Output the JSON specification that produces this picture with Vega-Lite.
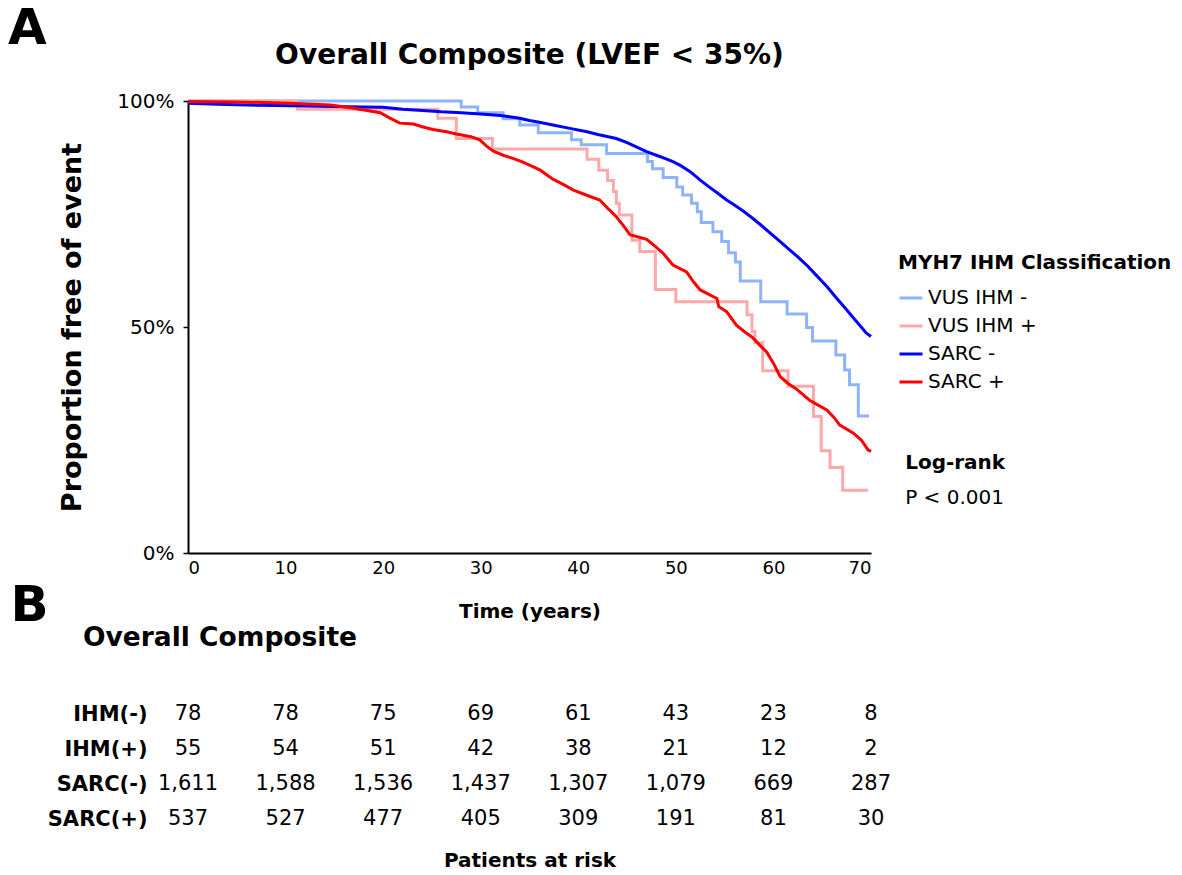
{
  "$schema": "https://vega.github.io/schema/vega-lite/v6.json",
  "autosize": {"type": "pad"},
  "padding": {"left": 8, "top": 4, "right": 0, "bottom": 0},
  "background": "white",
  "bounds": "flush",
  "spacing": 143.5,
  "title": {"text": "A", "anchor": "start", "frame": "group", "dx": -180, "fontSize": 50, "fontWeight": "bold", "font": "DejaVu Sans", "color": "black", "offset": -12},
  "datasets": {
    "km": [
      {"group": "VUS IHM -", "t": 0, "p": 1.0},
      {"group": "VUS IHM -", "t": 28.0, "p": 0.987},
      {"group": "VUS IHM -", "t": 29.7, "p": 0.974},
      {"group": "VUS IHM -", "t": 32.3, "p": 0.961},
      {"group": "VUS IHM -", "t": 34.0, "p": 0.947},
      {"group": "VUS IHM -", "t": 35.9, "p": 0.930},
      {"group": "VUS IHM -", "t": 39.3, "p": 0.914},
      {"group": "VUS IHM -", "t": 40.3, "p": 0.903},
      {"group": "VUS IHM -", "t": 42.9, "p": 0.884},
      {"group": "VUS IHM -", "t": 47.1, "p": 0.866},
      {"group": "VUS IHM -", "t": 47.6, "p": 0.850},
      {"group": "VUS IHM -", "t": 48.7, "p": 0.831},
      {"group": "VUS IHM -", "t": 50.1, "p": 0.810},
      {"group": "VUS IHM -", "t": 50.7, "p": 0.792},
      {"group": "VUS IHM -", "t": 51.6, "p": 0.774},
      {"group": "VUS IHM -", "t": 52.2, "p": 0.755},
      {"group": "VUS IHM -", "t": 52.6, "p": 0.731},
      {"group": "VUS IHM -", "t": 53.8, "p": 0.711},
      {"group": "VUS IHM -", "t": 54.7, "p": 0.689},
      {"group": "VUS IHM -", "t": 55.4, "p": 0.664},
      {"group": "VUS IHM -", "t": 56.1, "p": 0.644},
      {"group": "VUS IHM -", "t": 56.6, "p": 0.602},
      {"group": "VUS IHM -", "t": 58.7, "p": 0.556},
      {"group": "VUS IHM -", "t": 61.4, "p": 0.529},
      {"group": "VUS IHM -", "t": 63.4, "p": 0.499},
      {"group": "VUS IHM -", "t": 64.0, "p": 0.469},
      {"group": "VUS IHM -", "t": 66.4, "p": 0.438},
      {"group": "VUS IHM -", "t": 67.3, "p": 0.405},
      {"group": "VUS IHM -", "t": 67.8, "p": 0.372},
      {"group": "VUS IHM -", "t": 68.7, "p": 0.303},
      {"group": "VUS IHM -", "t": 69.8, "p": 0.303},
      {"group": "VUS IHM +", "t": 0, "p": 1.0},
      {"group": "VUS IHM +", "t": 11.2, "p": 0.982},
      {"group": "VUS IHM +", "t": 25.6, "p": 0.962},
      {"group": "VUS IHM +", "t": 27.5, "p": 0.917},
      {"group": "VUS IHM +", "t": 31.2, "p": 0.894},
      {"group": "VUS IHM +", "t": 40.9, "p": 0.871},
      {"group": "VUS IHM +", "t": 42.1, "p": 0.847},
      {"group": "VUS IHM +", "t": 43.0, "p": 0.824},
      {"group": "VUS IHM +", "t": 43.6, "p": 0.800},
      {"group": "VUS IHM +", "t": 43.9, "p": 0.774},
      {"group": "VUS IHM +", "t": 44.2, "p": 0.748},
      {"group": "VUS IHM +", "t": 45.5, "p": 0.692},
      {"group": "VUS IHM +", "t": 46.3, "p": 0.667},
      {"group": "VUS IHM +", "t": 47.9, "p": 0.583},
      {"group": "VUS IHM +", "t": 50.0, "p": 0.556},
      {"group": "VUS IHM +", "t": 57.3, "p": 0.527},
      {"group": "VUS IHM +", "t": 57.8, "p": 0.490},
      {"group": "VUS IHM +", "t": 58.1, "p": 0.465},
      {"group": "VUS IHM +", "t": 58.9, "p": 0.403},
      {"group": "VUS IHM +", "t": 61.5, "p": 0.369},
      {"group": "VUS IHM +", "t": 64.1, "p": 0.302},
      {"group": "VUS IHM +", "t": 64.9, "p": 0.226},
      {"group": "VUS IHM +", "t": 65.8, "p": 0.189},
      {"group": "VUS IHM +", "t": 67.1, "p": 0.139},
      {"group": "VUS IHM +", "t": 69.7, "p": 0.139},
      {"group": "SARC -", "t": 0, "p": 0.995},
      {"group": "SARC -", "t": 3, "p": 0.993},
      {"group": "SARC -", "t": 6, "p": 0.991},
      {"group": "SARC -", "t": 9, "p": 0.990},
      {"group": "SARC -", "t": 12, "p": 0.989},
      {"group": "SARC -", "t": 18, "p": 0.987},
      {"group": "SARC -", "t": 20, "p": 0.986},
      {"group": "SARC -", "t": 22, "p": 0.982},
      {"group": "SARC -", "t": 24, "p": 0.979},
      {"group": "SARC -", "t": 26, "p": 0.976},
      {"group": "SARC -", "t": 28, "p": 0.974},
      {"group": "SARC -", "t": 30, "p": 0.971},
      {"group": "SARC -", "t": 32, "p": 0.968},
      {"group": "SARC -", "t": 34, "p": 0.962},
      {"group": "SARC -", "t": 35, "p": 0.957},
      {"group": "SARC -", "t": 36, "p": 0.953},
      {"group": "SARC -", "t": 37.4, "p": 0.947},
      {"group": "SARC -", "t": 39, "p": 0.940},
      {"group": "SARC -", "t": 40.9, "p": 0.932},
      {"group": "SARC -", "t": 42, "p": 0.926},
      {"group": "SARC -", "t": 43.9, "p": 0.917},
      {"group": "SARC -", "t": 45, "p": 0.908},
      {"group": "SARC -", "t": 46, "p": 0.898},
      {"group": "SARC -", "t": 47, "p": 0.888},
      {"group": "SARC -", "t": 48, "p": 0.880},
      {"group": "SARC -", "t": 49, "p": 0.872},
      {"group": "SARC -", "t": 49.7, "p": 0.866},
      {"group": "SARC -", "t": 50.5, "p": 0.857},
      {"group": "SARC -", "t": 51.5, "p": 0.843},
      {"group": "SARC -", "t": 52.5, "p": 0.825},
      {"group": "SARC -", "t": 53.4, "p": 0.810},
      {"group": "SARC -", "t": 54.3, "p": 0.796},
      {"group": "SARC -", "t": 55.2, "p": 0.781},
      {"group": "SARC -", "t": 56, "p": 0.770},
      {"group": "SARC -", "t": 57, "p": 0.755},
      {"group": "SARC -", "t": 57.9, "p": 0.740},
      {"group": "SARC -", "t": 58.8, "p": 0.724},
      {"group": "SARC -", "t": 59.7, "p": 0.707},
      {"group": "SARC -", "t": 60.7, "p": 0.689},
      {"group": "SARC -", "t": 61.6, "p": 0.672},
      {"group": "SARC -", "t": 62.5, "p": 0.655},
      {"group": "SARC -", "t": 63.4, "p": 0.637},
      {"group": "SARC -", "t": 64.5, "p": 0.612},
      {"group": "SARC -", "t": 65.5, "p": 0.589},
      {"group": "SARC -", "t": 66.5, "p": 0.563},
      {"group": "SARC -", "t": 67.5, "p": 0.538},
      {"group": "SARC -", "t": 68.2, "p": 0.520},
      {"group": "SARC -", "t": 69, "p": 0.500},
      {"group": "SARC -", "t": 69.5, "p": 0.487},
      {"group": "SARC -", "t": 70, "p": 0.479},
      {"group": "SARC +", "t": 0, "p": 0.999},
      {"group": "SARC +", "t": 5, "p": 0.998},
      {"group": "SARC +", "t": 10.5, "p": 0.995},
      {"group": "SARC +", "t": 14.6, "p": 0.991},
      {"group": "SARC +", "t": 17, "p": 0.984},
      {"group": "SARC +", "t": 19.7, "p": 0.974},
      {"group": "SARC +", "t": 20.7, "p": 0.962},
      {"group": "SARC +", "t": 21.7, "p": 0.951},
      {"group": "SARC +", "t": 23.1, "p": 0.949},
      {"group": "SARC +", "t": 24, "p": 0.943},
      {"group": "SARC +", "t": 25.1, "p": 0.937},
      {"group": "SARC +", "t": 26.5, "p": 0.932},
      {"group": "SARC +", "t": 27.5, "p": 0.927},
      {"group": "SARC +", "t": 29, "p": 0.921},
      {"group": "SARC +", "t": 29.9, "p": 0.914},
      {"group": "SARC +", "t": 30.6, "p": 0.900},
      {"group": "SARC +", "t": 31.3, "p": 0.889},
      {"group": "SARC +", "t": 32.3, "p": 0.880},
      {"group": "SARC +", "t": 33.3, "p": 0.873},
      {"group": "SARC +", "t": 34.2, "p": 0.866},
      {"group": "SARC +", "t": 35, "p": 0.858},
      {"group": "SARC +", "t": 36.1, "p": 0.847},
      {"group": "SARC +", "t": 37.4, "p": 0.827},
      {"group": "SARC +", "t": 38.5, "p": 0.815},
      {"group": "SARC +", "t": 39.5, "p": 0.803},
      {"group": "SARC +", "t": 40.8, "p": 0.792},
      {"group": "SARC +", "t": 42.2, "p": 0.781},
      {"group": "SARC +", "t": 43, "p": 0.763},
      {"group": "SARC +", "t": 43.9, "p": 0.744},
      {"group": "SARC +", "t": 44.6, "p": 0.725},
      {"group": "SARC +", "t": 45.3, "p": 0.704},
      {"group": "SARC +", "t": 47, "p": 0.694},
      {"group": "SARC +", "t": 47.8, "p": 0.680},
      {"group": "SARC +", "t": 48.7, "p": 0.663},
      {"group": "SARC +", "t": 49.7, "p": 0.637},
      {"group": "SARC +", "t": 51.1, "p": 0.622},
      {"group": "SARC +", "t": 51.8, "p": 0.600},
      {"group": "SARC +", "t": 52.5, "p": 0.582},
      {"group": "SARC +", "t": 54.2, "p": 0.563},
      {"group": "SARC +", "t": 54.4, "p": 0.545},
      {"group": "SARC +", "t": 55.2, "p": 0.534},
      {"group": "SARC +", "t": 56.2, "p": 0.504},
      {"group": "SARC +", "t": 57, "p": 0.490},
      {"group": "SARC +", "t": 57.9, "p": 0.476},
      {"group": "SARC +", "t": 58.6, "p": 0.460},
      {"group": "SARC +", "t": 59.3, "p": 0.445},
      {"group": "SARC +", "t": 60, "p": 0.420},
      {"group": "SARC +", "t": 60.7, "p": 0.390},
      {"group": "SARC +", "t": 61.5, "p": 0.375},
      {"group": "SARC +", "t": 62.4, "p": 0.362},
      {"group": "SARC +", "t": 63.7, "p": 0.338},
      {"group": "SARC +", "t": 65.5, "p": 0.316},
      {"group": "SARC +", "t": 66.2, "p": 0.300},
      {"group": "SARC +", "t": 66.8, "p": 0.283},
      {"group": "SARC +", "t": 68.2, "p": 0.265},
      {"group": "SARC +", "t": 69, "p": 0.250},
      {"group": "SARC +", "t": 69.7, "p": 0.228},
      {"group": "SARC +", "t": 70, "p": 0.225}
    ],
    "risk": [
      {"row": "IHM(-)", "t": 0, "n": 78}, {"row": "IHM(-)", "t": 10, "n": 78}, {"row": "IHM(-)", "t": 20, "n": 75}, {"row": "IHM(-)", "t": 30, "n": 69},
      {"row": "IHM(-)", "t": 40, "n": 61}, {"row": "IHM(-)", "t": 50, "n": 43}, {"row": "IHM(-)", "t": 60, "n": 23}, {"row": "IHM(-)", "t": 70, "n": 8},
      {"row": "IHM(+)", "t": 0, "n": 55}, {"row": "IHM(+)", "t": 10, "n": 54}, {"row": "IHM(+)", "t": 20, "n": 51}, {"row": "IHM(+)", "t": 30, "n": 42},
      {"row": "IHM(+)", "t": 40, "n": 38}, {"row": "IHM(+)", "t": 50, "n": 21}, {"row": "IHM(+)", "t": 60, "n": 12}, {"row": "IHM(+)", "t": 70, "n": 2},
      {"row": "SARC(-)", "t": 0, "n": 1611}, {"row": "SARC(-)", "t": 10, "n": 1588}, {"row": "SARC(-)", "t": 20, "n": 1536}, {"row": "SARC(-)", "t": 30, "n": 1437},
      {"row": "SARC(-)", "t": 40, "n": 1307}, {"row": "SARC(-)", "t": 50, "n": 1079}, {"row": "SARC(-)", "t": 60, "n": 669}, {"row": "SARC(-)", "t": 70, "n": 287},
      {"row": "SARC(+)", "t": 0, "n": 537}, {"row": "SARC(+)", "t": 10, "n": 527}, {"row": "SARC(+)", "t": 20, "n": 477}, {"row": "SARC(+)", "t": 30, "n": 405},
      {"row": "SARC(+)", "t": 40, "n": 309}, {"row": "SARC(+)", "t": 50, "n": 191}, {"row": "SARC(+)", "t": 60, "n": 81}, {"row": "SARC(+)", "t": 70, "n": 30}
    ],
    "notes": [
      {"label": "Log-rank", "kind": "head"},
      {"label": "P < 0.001", "kind": "value"}
    ]
  },
  "vconcat": [
    {
      "width": 683,
      "height": 452,
      "title": {"text": "Overall Composite (LVEF < 35%)", "fontSize": 28, "fontWeight": "bold", "font": "DejaVu Sans", "color": "black", "offset": 21},
      "layer": [
        {
          "data": {"name": "km"},
          "transform": [{"filter": "indexof(datum.group, 'VUS') >= 0"}],
          "mark": {"type": "line", "interpolate": "step-after"},
          "encoding": {
            "x": {"field": "t", "type": "quantitative", "scale": {"domain": [0, 70], "nice": false},
              "axis": {"values": [0, 10, 20, 30, 40, 50, 60, 70], "title": "Time (years)", "ticks": false, "labelPadding": 6, "titlePadding": 24, "titleFontSize": 20, "labelFontSize": 18, "grid": false, "domainColor": "black", "domainWidth": 2}},
            "y": {"field": "p", "type": "quantitative", "scale": {"domain": [0, 1], "nice": false},
              "axis": {"values": [0, 0.5, 1], "format": ".0%", "title": "Proportion free of event", "titleFontSize": 27, "labelFontSize": 20, "tickSize": 5, "tickColor": "black", "tickWidth": 1.5, "labelPadding": 9, "titlePadding": 30, "grid": false, "domainColor": "black", "domainWidth": 2}},
            "color": {"field": "group", "type": "nominal", "title": "MYH7 IHM Classification",
              "scale": {"domain": ["VUS IHM -", "VUS IHM +", "SARC -", "SARC +"], "range": ["#8db4fa", "#ffa8a8", "#0000ff", "#ff0000"]}},
            "strokeWidth": {"field": "group", "type": "nominal", "title": "MYH7 IHM Classification",
              "scale": {"domain": ["VUS IHM -", "VUS IHM +", "SARC -", "SARC +"], "range": [3, 3, 5, 4]}}
          }
        },
        {
          "data": {"name": "km"},
          "transform": [{"filter": "indexof(datum.group, 'SARC') >= 0"}],
          "mark": {"type": "line", "interpolate": "linear"},
          "encoding": {
            "x": {"field": "t", "type": "quantitative"},
            "y": {"field": "p", "type": "quantitative"},
            "color": {"field": "group", "type": "nominal", "title": "MYH7 IHM Classification"},
            "strokeWidth": {"field": "group", "type": "nominal", "title": "MYH7 IHM Classification"}
          }
        },
        {
          "data": {"name": "notes"},
          "transform": [{"filter": "datum.kind == 'head'"}],
          "mark": {"type": "text", "align": "left", "baseline": "middle", "fontSize": 20, "fontWeight": "bold", "font": "DejaVu Sans", "color": "black"},
          "encoding": {"x": {"datum": 73.5, "type": "quantitative"}, "y": {"datum": 0.199, "type": "quantitative"}, "text": {"field": "label"}}
        },
        {
          "data": {"name": "notes"},
          "transform": [{"filter": "datum.kind == 'value'"}],
          "mark": {"type": "text", "align": "left", "baseline": "middle", "fontSize": 20, "font": "DejaVu Sans", "color": "black"},
          "encoding": {"x": {"datum": 73.5, "type": "quantitative"}, "y": {"datum": 0.122, "type": "quantitative"}, "text": {"field": "label"}}
        }
      ]
    },
    {
      "width": 683,
      "height": 140,
      "data": {"name": "risk"},
      "title": {"text": "Overall Composite", "anchor": "start", "frame": "group", "dx": -105, "fontSize": 26.5, "fontWeight": "bold", "font": "DejaVu Sans", "color": "black", "offset": -71},
      "mark": {"type": "text", "fontSize": 21, "font": "DejaVu Sans", "color": "black", "baseline": "middle"},
      "encoding": {
        "x": {"field": "t", "type": "quantitative", "scale": {"domain": [0, 70], "nice": false},
          "axis": {"labels": false, "ticks": false, "domain": false, "grid": false, "title": "Patients at risk", "titleFontSize": 20, "titlePadding": 14}},
        "y": {"field": "row", "type": "nominal", "sort": ["IHM(-)", "IHM(+)", "SARC(-)", "SARC(+)"], "scale": {"type": "point", "padding": 0.5},
          "axis": {"title": "B", "titleAngle": 0, "titleFontSize": 50, "titleAlign": "left", "titleBaseline": "middle", "titleX": -178, "titleY": -91, "labelFontSize": 21, "labelFontWeight": "bold", "ticks": false, "domain": false, "labelPadding": 41, "grid": false}},
        "text": {"field": "n", "type": "quantitative", "format": ","}
      }
    }
  ],
  "config": {
    "view": {"stroke": null},
    "font": "DejaVu Sans",
    "axis": {"labelFont": "DejaVu Sans", "titleFont": "DejaVu Sans", "labelColor": "black", "titleColor": "black", "titleFontWeight": "bold"},
    "legend": {"orient": "none", "legendX": 710, "legendY": 152, "titleFont": "DejaVu Sans", "titleFontSize": 20, "titleFontWeight": "bold", "titleColor": "black", "titleLimit": 0, "labelFont": "DejaVu Sans", "labelFontSize": 20, "labelColor": "black", "symbolType": "stroke", "symbolSize": 529, "rowPadding": 5, "titlePadding": 12, "labelOffset": 4}
  }
}
